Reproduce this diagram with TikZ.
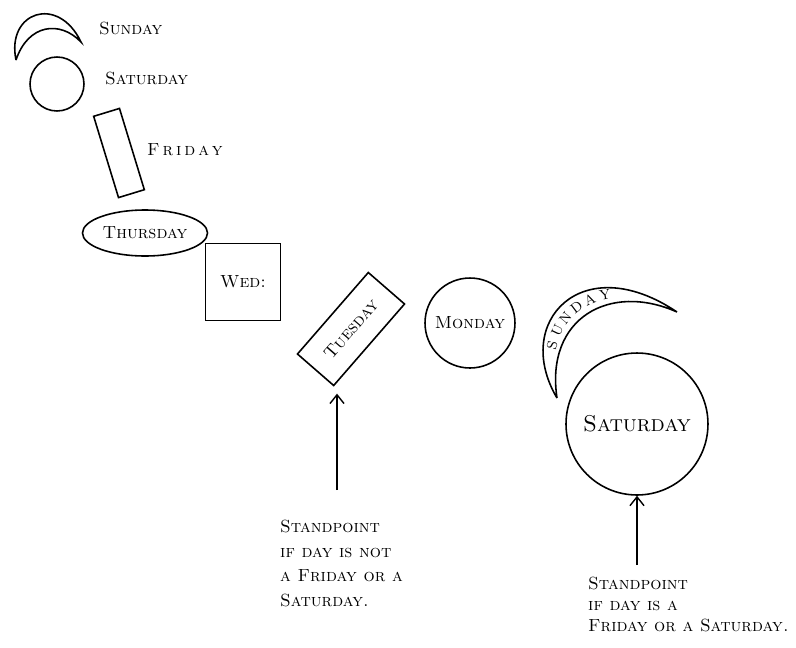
\documentclass[tikz,border=0pt]{standalone}
\usetikzlibrary{arrows.meta,positioning,shapes.geometric}

\tikzset{
  day/.style={draw,line width=0.9pt,inner sep=1pt,font=\normalsize\scshape},
  dayring/.style={day,circle},
  daylabel/.style={anchor=west,font=\normalsize\scshape},
  bandletter/.style={sloped,inner sep=0pt,font=\footnotesize},
  pointer/.style={-{Straight Barb[length=5pt,width=8pt]},line width=0.8pt},
  note/.style={anchor=north west,align=left,font=\normalsize\scshape}
}

\begin{document}
\begin{tikzpicture}[x=0.02cm,y=-0.02cm]
  \useasboundingbox (0,0) rectangle (796,647);
  % small sequence, top left
  \draw[line width=0.9pt] (16,60) .. controls (6,12) and (58,-6) .. (81,42)
        .. controls (60,20) and (28,24) .. (16,60);
  \node[daylabel] (sunlab) at (93,28) {Sunday};
  \node[dayring,minimum size=1.08cm] (sat) at (57,84) {};
  \node[daylabel] (satlab) at (99,78) {Saturday};
  \node[day,minimum width=0.54cm,minimum height=1.7cm,rotate=17] (fri) at (119,153) {};
  \node[daylabel] (frilab) at (141,150) {F\,r\,i\,d\,a\,y};
  \node[day,ellipse,minimum width=2.08cm,minimum height=0.92cm] (thu) at (145,233) {Thursday};
  \node[day,minimum width=1.5cm,minimum height=1.54cm] (wed) at (243,282) {Wed:};
  \node[day,minimum width=2.16cm,minimum height=0.96cm,rotate=49] (tue) at (351,329) {Tuesday};
  \node[dayring,minimum size=1.8cm] (mon) at (470,323) {Monday};
  % large crescent with its label along the band
  \draw[line width=0.9pt] (557,398) .. controls (512,322) and (582,248) .. (677,312)
        .. controls (610,282) and (545,318) .. (557,398);
  \path (557,398) .. controls (528,322) and (596,262) .. (677,312)
    \foreach \ch/\p [count=\i] in {S/.25,U/.335,N/.42,D/.505,A/.59,Y/.675}{
      node[bandletter,pos=\p] (band\i) {\ch}};
  \node[dayring,minimum size=2.84cm,font=\fontsize{13}{15}\selectfont\scshape] (bigsat) at (637,424) {Saturday};
  % standpoints
  \node[note] (std1) at (274,514) {Standpoint\\[2pt]if day is not\\[2pt]a Friday or a\\[2pt]Saturday.};
  \node[note] (std2) at (582,571) {Standpoint\\if day is a\\Friday or a Saturday.};
  \coordinate (foot1) at (337,490);
  \coordinate (foot2) at (637,565);
  \draw[pointer] (foot1) -- (foot1 |- tue.south west) [shorten >=4pt];
  \draw[pointer] (foot2) -- (bigsat);
\end{tikzpicture}
\end{document}
